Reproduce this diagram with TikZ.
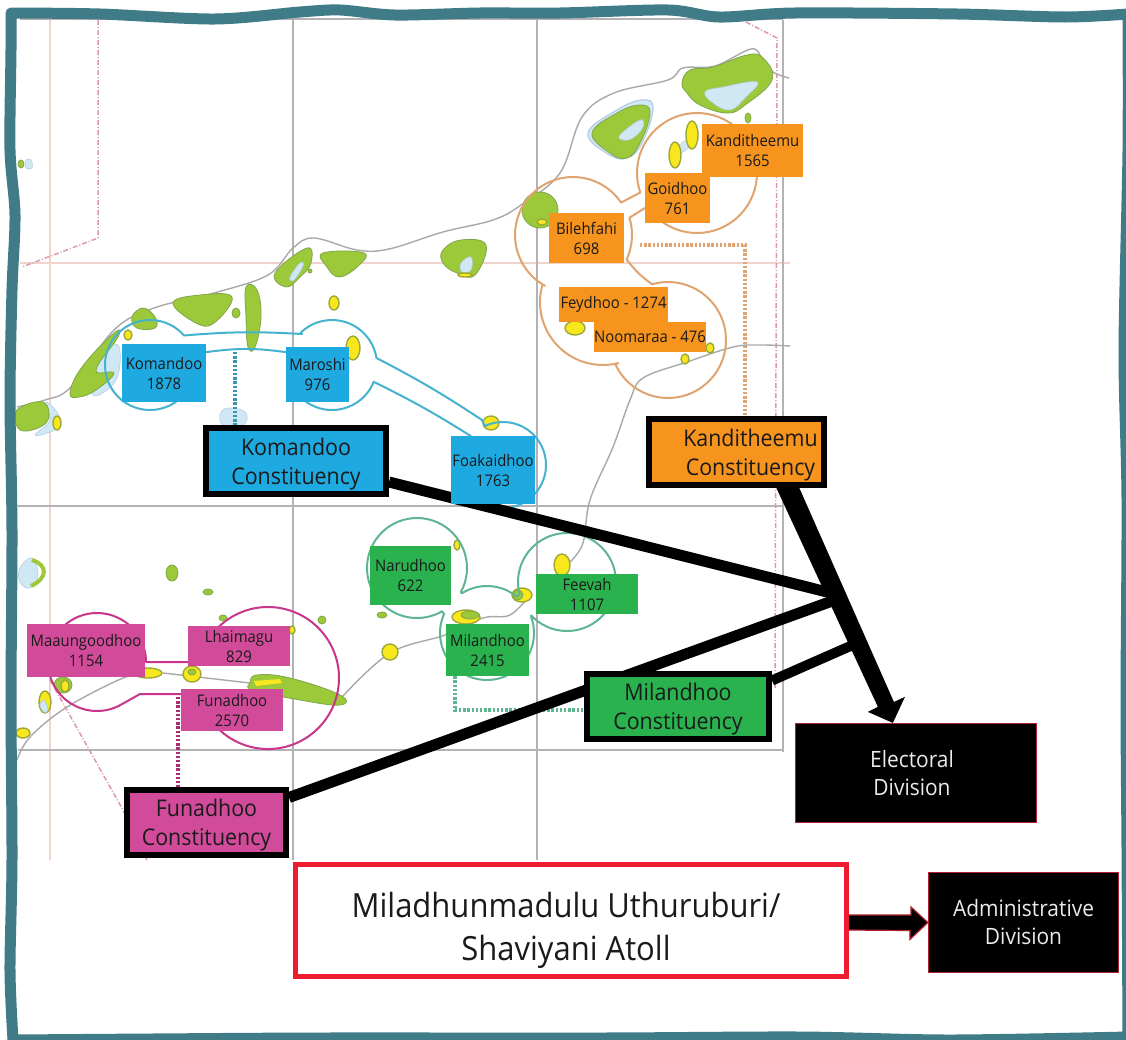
\documentclass[tikz,border=0pt]{standalone}
\usepackage{fontspec}
\setmainfont[FakeStretch=0.93]{Open Sans}
\usetikzlibrary{calc}
\pgfdeclarelayer{back}
\pgfdeclarelayer{mid}
\pgfsetlayers{back,mid,main}
\definecolor{frameteal}{HTML}{3F7C88}
\definecolor{gridgrey}{HTML}{B5B2B6}
\definecolor{gridpink}{HTML}{EFD3CC}
\definecolor{dashred}{HTML}{DD9AA4}
\definecolor{routegrey}{HTML}{A9A9A9}
\definecolor{isgreen}{HTML}{9CC93A}
\definecolor{isedge}{HTML}{7FA648}
\definecolor{isyellow}{HTML}{F8E71C}
\definecolor{yellowedge}{HTML}{9CA83A}
\definecolor{islake}{HTML}{CFE8F3}
\definecolor{lakeedge}{HTML}{B5CDE6}
\definecolor{bluebox}{HTML}{1FA9E1}
\definecolor{orangebox}{HTML}{F7941D}
\definecolor{greenbox}{HTML}{29B24E}
\definecolor{pinkbox}{HTML}{D24B9B}
\definecolor{blueline}{HTML}{45B2CF}
\definecolor{orangeline}{HTML}{DFA470}
\definecolor{greenline}{HTML}{5FB592}
\definecolor{pinkline}{HTML}{C8358A}
\definecolor{redbox}{HTML}{ED1C2E}
\definecolor{darkred}{HTML}{B0202E}
\definecolor{ink}{HTML}{1A1A1A}
\newcommand{\ArcSeg}[5]{([shift={(#4:#3)}]#1,#2) arc[start angle=#4,end angle=#5,radius=#3]}
\newcommand{\Isl}[1]{\draw[island] plot[smooth cycle,tension=.7] coordinates {#1};}
\newcommand{\Lake}[1]{\draw[lakeshape] plot[smooth cycle,tension=.7] coordinates {#1};}
\newcommand{\Yel}[4]{\draw[yellowis] (#1,#2) ellipse (#3 and #4);}
\newcommand{\Grn}[4]{\draw[island] (#1,#2) ellipse (#3 and #4);}
\newcommand{\LowerText}{\rule{0pt}{23pt}}
\tikzset{
  island/.style={fill=isgreen,draw=isedge,line width=0.8pt},
  yellowis/.style={fill=isyellow,draw=yellowedge,line width=1.4pt},
  lakeshape/.style={fill=islake,draw=lakeedge,line width=0.6pt},
  gridline/.style={draw=gridgrey,line width=1.6pt},
  pinkgrid/.style={draw=gridpink,line width=1.4pt},
  reddash/.style={draw=dashred,line width=1.5pt,dash pattern=on 5pt off 2pt on 1pt off 2pt},
  route/.style={draw=routegrey,line width=1.4pt},
  blob/.style={line width=2pt,line join=round},
  dotlink/.style={line width=3.2pt,dash pattern=on 2.4pt off 1.8pt},
  smallbox/.style={inner sep=0pt,align=center,text=ink,font=\fontsize{16}{20}\selectfont},
  conbox/.style={draw=black,line width=6pt,inner sep=0pt,align=center,text=ink,font=\fontsize{23}{29}\selectfont},
  blackbox/.style={fill=black,draw=darkred,line width=1.2pt,inner sep=0pt,align=center,text=white!92!black,font=\fontsize{22.5}{28}\selectfont},
  thicklink/.style={draw=black,line width=11pt},
}
\begin{document}
\begin{tikzpicture}[x=1pt,y=-1pt]
\useasboundingbox (0,0) rectangle (1126,1039);
\begin{pgfonlayer}{back}
\fill[white] (0,0) rectangle (1126,1039);
% map grid
\draw[pinkgrid] (50,20) -- (50,860);
\draw[pinkgrid] (20,263) -- (790,263);
\draw[gridline] (293,20) -- (293,860);
\draw[gridline] (537,20) -- (537,860);
\draw[gridline] (783,20) -- (783,752);
\draw[gridline] (20,19) -- (783,19);
\draw[gridline] (18,506) -- (783,506);
\draw[gridline] (18,750) -- (783,750);
\draw[reddash] (98,20) -- (98,238) -- (22,267);
\draw[reddash] (746,22) -- (777,38) -- (775,690);
\draw[reddash] (50,680) -- (123,810) -- (147,860);
% sea routes
\draw[route] plot[smooth,tension=.6] coordinates {(17,407) (45,400) (71,387) (114,330) (154,308) (214,293) (268,275) (293,248) (314,238) (357,250) (389,249) (443,232) (493,220) (521,205) (560,173) (582,117) (614,93) (668,80) (683,68) (715,66) (751,49) (762,58) (773,72) (789,78)};
\draw[route] plot[smooth,tension=.6] coordinates {(790,346) (760,345) (733,347) (687,362) (643,378) (630,400) (613,447) (590,500) (583,543) (570,562)};
\draw[route] plot[smooth,tension=.6] coordinates {(530,595) (510,615) (483,618) (445,635) (390,653) (342,697)};
\draw[route] (342,697) -- (250,683) -- (163,673);
\draw[route] plot[smooth,tension=.6] coordinates {(147,673) (123,678) (67,707) (30,737) (17,760)};
% islands: north
\Isl{(682,83) (690,70) (713,67) (747,55) (763,58) (772,80) (745,105) (727,113) (700,105) (687,93)}
\Lake{(705,92) (723,87) (757,82) (745,98) (730,110) (713,103)}
\draw[lakeedge,line width=1.2pt,fill=islake] plot[smooth cycle,tension=.7] coordinates {(588,133) (617,110) (642,100) (653,108) (642,143) (627,158) (608,154)};
\Isl{(592,133) (617,113) (640,105) (650,113) (640,143) (627,158) (610,153)}
\Lake{(620,135) (640,120) (643,127) (633,138) (623,140)}
\Lake{(677,148) (687,140) (690,146) (680,153)}
\Yel{675}{155}{6}{13}
\Yel{692}{135}{6}{14}
\Grn{748}{118}{3}{5}
\Grn{540}{210}{18}{18}
\Yel{542}{222}{5}{3}
\Yel{575}{328}{10}{7}
\Yel{710}{348}{4}{5}
\Yel{685}{359}{4}{5}
% islands: north-west chain
\Isl{(275,273) (307,248) (311,263) (300,277) (286,287)}
\Lake{(290,277) (300,263) (303,266) (294,280)}
\Grn{310}{271}{2}{2}
\Isl{(323,253) (364,253) (357,267) (339,277) (327,267)}
\Isl{(443,250) (461,240) (486,245) (475,275) (457,273) (443,263)}
\Lake{(461,263) (471,257) (471,270) (462,272)}
\Yel{465}{275}{7}{2}
\Isl{(173,303) (200,295) (232,297) (214,323) (196,323)}
\Grn{236}{313}{4}{5}
\Isl{(246,287) (257,290) (261,317) (255,347) (248,347) (246,317)}
\Yel{334}{303}{5}{7}
\Isl{(132,317) (143,308) (155,317) (155,328) (137,328)}
\Lake{(100,355) (118,345) (118,375) (104,392) (92,392)}
\Isl{(70,393) (82,367) (114,333) (118,337) (96,370) (114,373) (96,390) (79,397)}
\Yel{128}{335}{4}{5}
\Lake{(45,402) (57,412) (60,425) (50,432) (35,435) (50,420)}
\Isl{(17,410) (43,402) (48,420) (32,430) (18,428)}
\Yel{57}{423}{4}{7}
\Yel{353}{348}{7}{12}
\Yel{491}{423}{8}{7}
\Lake{(221,412) (232,408) (246,413) (243,425) (223,425)}
\Lake{(26,160) (31,160) (32,168) (26,168)}
\Grn{21}{164}{3}{4}
% islands: south
\Lake{(20,568) (32,558) (38,575) (30,588) (20,582)}
\draw[isgreen,line width=4pt] (32,560) .. controls (48,565) and (48,578) .. (31,586);
\Grn{172}{573}{6}{8}
\Grn{208}{592}{5}{3}
\Grn{322}{620}{4}{4}
\Grn{223}{618}{4}{3}
\Yel{292}{630}{3}{4}
\Yel{390}{652}{8}{8}
\Grn{382}{615}{5}{3}
\Yel{192}{674}{9}{8}
\Grn{192}{672}{4}{3}
\Yel{148}{673}{14}{5}
\Grn{63}{685}{9}{8}
\Yel{65}{686}{4}{6}
\Yel{45}{702}{6}{11}
\Lake{(40,705) (44,700) (48,710) (44,712)}
\Yel{23}{733}{7}{5}
\Isl{(250,683) (257,675) (290,678) (340,695) (340,705) (300,700) (253,690)}
\fill[isyellow] (254,681) -- (280,679) -- (282,683) -- (256,686) -- cycle;
\Yel{457}{545}{3}{5}
\Yel{466}{617}{14}{7}
\Grn{470}{615}{9}{4}
\Yel{522}{595}{10}{7}
\Grn{518}{595}{5}{5}
\Yel{562}{565}{8}{11}
% constituency outlines
\draw[blob,draw=orangeline] \ArcSeg{573}{235}{58}{326}{119} -- \ArcSeg{603}{302}{63}{196}{76} -- \ArcSeg{668}{340}{58}{155}{-106} to[bend left=8] (627,260) -- \ArcSeg{573}{235}{59}{25}{-17} -- (645,208) -- \ArcSeg{697}{173}{60}{146}{-199} -- cycle;
\draw[blob,draw=blueline] \ArcSeg{150}{365}{45}{345}{679} to[bend left=4] (302,334) -- \ArcSeg{332}{365}{45}{226}{351} to[bend left=3] (482,420) -- \ArcSeg{503}{465}{43}{245}{582} to[bend right=3] (374,382) -- \ArcSeg{332}{365}{45}{22}{196} to[bend right=8] (207,352) -- cycle;
\draw[blob,draw=pinkline] \ArcSeg{268}{678}{71}{193}{513} -- (181,694) -- (140,694) -- \ArcSeg{97}{662}{49}{58}{360} -- cycle;
\draw[blob,draw=greenline] \ArcSeg{417}{568}{50}{29}{-300} -- \ArcSeg{487}{633}{47}{204}{-20} -- \ArcSeg{567}{582}{49}{137}{-195} -- \ArcSeg{487}{633}{47}{-51}{-122} -- cycle;
\end{pgfonlayer}
% atoll boxes
\node[smallbox,fill=orangebox,minimum width=101,minimum height=53] (kanditheemu) at (752.5,150.5) {Kanditheemu\\1565};
\node[smallbox,fill=orangebox,minimum width=65,minimum height=50] (goidhoo) at (677.5,198) {Goidhoo\\761};
\node[smallbox,fill=orangebox,minimum width=75,minimum height=50] (bilehfahi) at (586.5,238) {Bilehfahi\\698};
\node[smallbox,fill=orangebox,minimum width=109,minimum height=35] (feydhoo) at (613.5,304.5) {Feydhoo - 1274};
\node[smallbox,fill=orangebox,minimum width=112,minimum height=30] (noomaraa) at (650,337) {Noomaraa - 476};
\node[smallbox,fill=bluebox,minimum width=84,minimum height=58] (komandoo) at (164,373) {Komandoo\\1878};
\node[smallbox,fill=bluebox,minimum width=63,minimum height=55] (maroshi) at (317.5,374.5) {Maroshi\\976};
\node[smallbox,fill=bluebox,minimum width=84,minimum height=68] (foakaidhoo) at (493,470) {Foakaidhoo\\1763};
\node[smallbox,fill=pinkbox,minimum width=118,minimum height=53] (maaungoodhoo) at (86,650.5) {Maaungoodhoo\\1154};
\node[smallbox,fill=pinkbox,minimum width=102,minimum height=40] (lhaimagu) at (239,646) {Lhaimagu\\829};
\node[smallbox,fill=pinkbox,minimum width=102,minimum height=42] (funadhoo) at (232,710) {Funadhoo\\2570};
\node[smallbox,fill=greenbox,minimum width=81,minimum height=59] (narudhoo) at (410.5,575.5) {Narudhoo\\622};
\node[smallbox,fill=greenbox,minimum width=102,minimum height=40] (feevah) at (587,594) {Feevah\\1107};
\node[smallbox,fill=greenbox,minimum width=83,minimum height=52] (milandhoo) at (487.5,650) {Milandhoo\\2415};
% constituency and division boxes
\node[conbox,fill=bluebox,minimum width=180,minimum height=66] (kcon) at (296,461) {\LowerText Komandoo\\Constituency};
\node[conbox,fill=orangebox,minimum width=175,minimum height=66] (tcon) at (736.5,452) {\LowerText\hspace*{28pt}Kanditheemu\\\hspace*{28pt}Constituency};
\node[conbox,fill=greenbox,minimum width=182,minimum height=65] (mcon) at (678,706.5) {\LowerText Milandhoo\\Constituency};
\node[conbox,fill=pinkbox,minimum width=159,minimum height=65] (fcon) at (206.5,822.5) {\LowerText Funadhoo\\Constituency};
\node[blackbox,minimum width=241,minimum height=99] (electoral) at (916,773) {Electoral\kern8pt\\Division\kern8pt};
\node[blackbox,minimum width=190,minimum height=100] (admin) at (1023.5,922.5) {Administrative\\Division};
\node[draw=redbox,fill=white,line width=5pt,inner sep=0pt,align=center,text=ink,font=\fontsize{33.3}{43}\selectfont,minimum width=551,minimum height=112] (atoll) at (571,920.5) {\rule{0pt}{44pt}Miladhunmadulu Uthuruburi/\kern10pt\\Shaviyani Atoll\kern10pt};
\begin{pgfonlayer}{mid}
% dotted leaders
\coordinate (tbend) at (745,245);
\coordinate (tstart) at (640,245);
\draw[dotlink,draw=orangeline] (tstart) -- (tbend) -- (tbend |- tcon.north);
\coordinate (kdot) at (235,352);
\draw[dotlink,draw=blueline!85!black] (kdot) -- (kdot |- kcon.north);
\coordinate (fdot) at (178,697);
\draw[dotlink,draw=pinkline!85!black] (fdot) -- (fdot |- fcon.north);
\coordinate (mbend) at (455,710);
\draw[dotlink,draw=greenline] (milandhoo.south -| mbend) -- (mbend) -- (mcon.west |- mbend);
% links into the electoral-division arrow
\coordinate (jkom) at (835,594);
\coordinate (jfun) at (835,600);
\coordinate (jmil) at (855,644);
\draw[thicklink] ([yshift=-21pt]kcon.east) -- (jkom);
\draw[thicklink] ([yshift=25pt]fcon.east) -- (jfun);
\draw[thicklink,line width=10pt] ([yshift=26pt]mcon.east) -- (jmil);
\fill[black] ([xshift=-52pt,yshift=3pt]tcon.south east) -- ([xshift=-29pt,yshift=3pt]tcon.south east)
  -- ([xshift=99pt,yshift=21pt]electoral.north west) -- ([xshift=110pt,yshift=26pt]electoral.north west)
  -- ([xshift=98pt]electoral.north west) -- ([xshift=73pt,yshift=11pt]electoral.north west)
  -- ([xshift=83pt,yshift=16pt]electoral.north west) -- cycle;
\draw[fill=black,draw=darkred,line width=1.2pt,line join=miter] ([yshift=5.5pt]atoll.east) -- ++(62,0) -- ++(0,-8) -- (admin.west) -- ([xshift=-18pt,yshift=-17pt]admin.west) -- ++(0,-9) -- ([yshift=-9.5pt]atoll.east);
\end{pgfonlayer}
% wavy frame
\begin{scope}
\clip (0,0) rectangle (1126,1039);
\draw[frameteal,line width=11pt,line join=round,line cap=round]
  plot[smooth,tension=.5] coordinates {(11,13) (100,14) (215,19) (300,12) (340,10) (395,15) (480,13) (560,13) (668,10) (719,17) (795,13) (957,14) (1065,17) (1128,14)}
  plot[smooth,tension=.5] coordinates {(1128,14) (1128,150) (1124,350) (1127,500) (1126,700) (1127,850) (1128,1037)}
  plot[smooth,tension=.5] coordinates {(1128,1037) (950,1040) (800,1037) (600,1038) (320,1038) (150,1039) (13,1040)}
  plot[smooth,tension=.5] coordinates {(13,1040) (10,970) (12,860) (11,700) (12,530) (10,400) (12,290) (15,215) (10,150) (11,50) (11,13)};
\end{scope}
\end{tikzpicture}
\end{document}
